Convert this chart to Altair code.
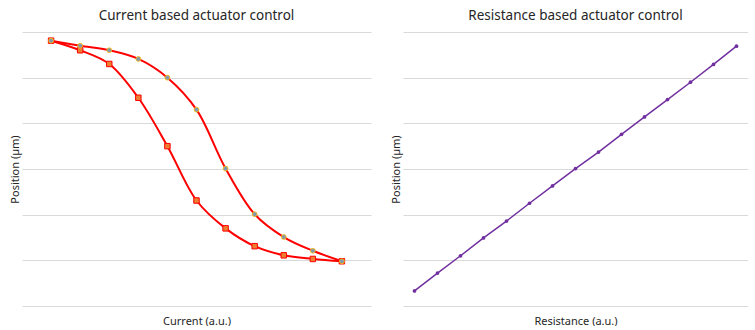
import altair as alt
import pandas as pd

# Left panel: hysteresis curves (current sweep)
current_x = [0, 1, 2, 3, 4, 5, 6, 7, 8, 9, 10]
upper_pos = [5.81, 5.70, 5.60, 5.41, 5.00, 4.30, 3.01, 2.01, 1.51, 1.21, 0.98]
lower_pos = [5.81, 5.60, 5.30, 4.56, 3.50, 2.31, 1.70, 1.31, 1.11, 1.03, 0.98]

# Right panel: linear response (resistance sweep)
resist_x = [0, 1, 2, 3, 4, 5, 6, 7, 8, 9, 10, 11, 12, 13, 14]
resist_pos = [0.33, 0.72, 1.10, 1.49, 1.86, 2.25, 2.63, 3.01, 3.37, 3.76, 4.14, 4.52, 4.90, 5.29, 5.69]

grid_vals = [0, 1, 2, 3, 4, 5, 6]

FONT = "Noto Sans"
TXT = "#262626"
GRID = "#D9D9D9"

df_up = pd.DataFrame({"x": current_x, "y": upper_pos})
df_lo = pd.DataFrame({"x": current_x, "y": lower_pos})
df_r = pd.DataFrame({"x": resist_x, "y": resist_pos})


def yaxis():
    return alt.Axis(values=grid_vals, labels=False, ticks=False, domain=False,
                    grid=True, gridColor=GRID, gridWidth=1,
                    title="Position (µm)", titleFont=FONT, titleFontSize=11,
                    titleFontWeight="normal", titleColor=TXT, titlePadding=2)


def xaxis(title):
    return alt.Axis(labels=False, ticks=False, domain=False, grid=False,
                    title=title, titleFont=FONT, titleFontSize=11,
                    titleFontWeight="normal", titleColor=TXT, titlePadding=9)


xl = alt.X("x:Q", scale=alt.Scale(domain=[-1, 11], nice=False, zero=False), axis=xaxis("Current (a.u.)"))
yl = alt.Y("y:Q", scale=alt.Scale(domain=[0, 6], nice=False), axis=yaxis())

lo_line = alt.Chart(df_lo).mark_line(color="#FF0000", strokeWidth=2, interpolate="catmull-rom").encode(x=xl, y=yl)
up_line = alt.Chart(df_up).mark_line(color="#FF0000", strokeWidth=2, interpolate="catmull-rom").encode(x=xl, y=yl)
lo_pts = alt.Chart(df_lo).mark_point(shape="square", filled=True, fill="#ED7D31", stroke="#FF0000",
                                     strokeWidth=1, size=30, opacity=1).encode(x=xl, y=yl)
up_pts = alt.Chart(df_up).mark_point(shape="circle", filled=True, fill="#8497B0", stroke="#FFC000",
                                     strokeWidth=0.8, size=24, opacity=1).encode(x=xl, y=yl)

left = alt.layer(lo_line, up_line, lo_pts, up_pts).properties(
    width=349, height=274,
    title=alt.TitleParams("Current based actuator control", font=FONT, fontSize=13.5,
                          fontWeight="normal", color=TXT, offset=10))

xr = alt.X("x:Q", scale=alt.Scale(domain=[-0.5, 14.5], nice=False, zero=False), axis=xaxis("Resistance (a.u.)"))
yr = alt.Y("y:Q", scale=alt.Scale(domain=[0, 6], nice=False), axis=yaxis())

r_line = alt.Chart(df_r).mark_line(color="#7030A0", strokeWidth=1.5).encode(x=xr, y=yr)
r_pts = alt.Chart(df_r).mark_point(shape="circle", filled=True, color="#7030A0", size=14, opacity=1).encode(x=xr, y=yr)

right = alt.layer(r_line, r_pts).properties(
    width=345, height=274,
    title=alt.TitleParams("Resistance based actuator control", font=FONT, fontSize=13.5,
                          fontWeight="normal", color=TXT, offset=10))

chart = alt.hconcat(left, right, spacing=19).properties(
    padding={"left": 9, "top": 8, "right": 0, "bottom": 0},
    background="white"
).configure_view(strokeWidth=0, stroke="transparent")

chart.save("out.html", embed_options={"renderer": "svg", "actions": False})
